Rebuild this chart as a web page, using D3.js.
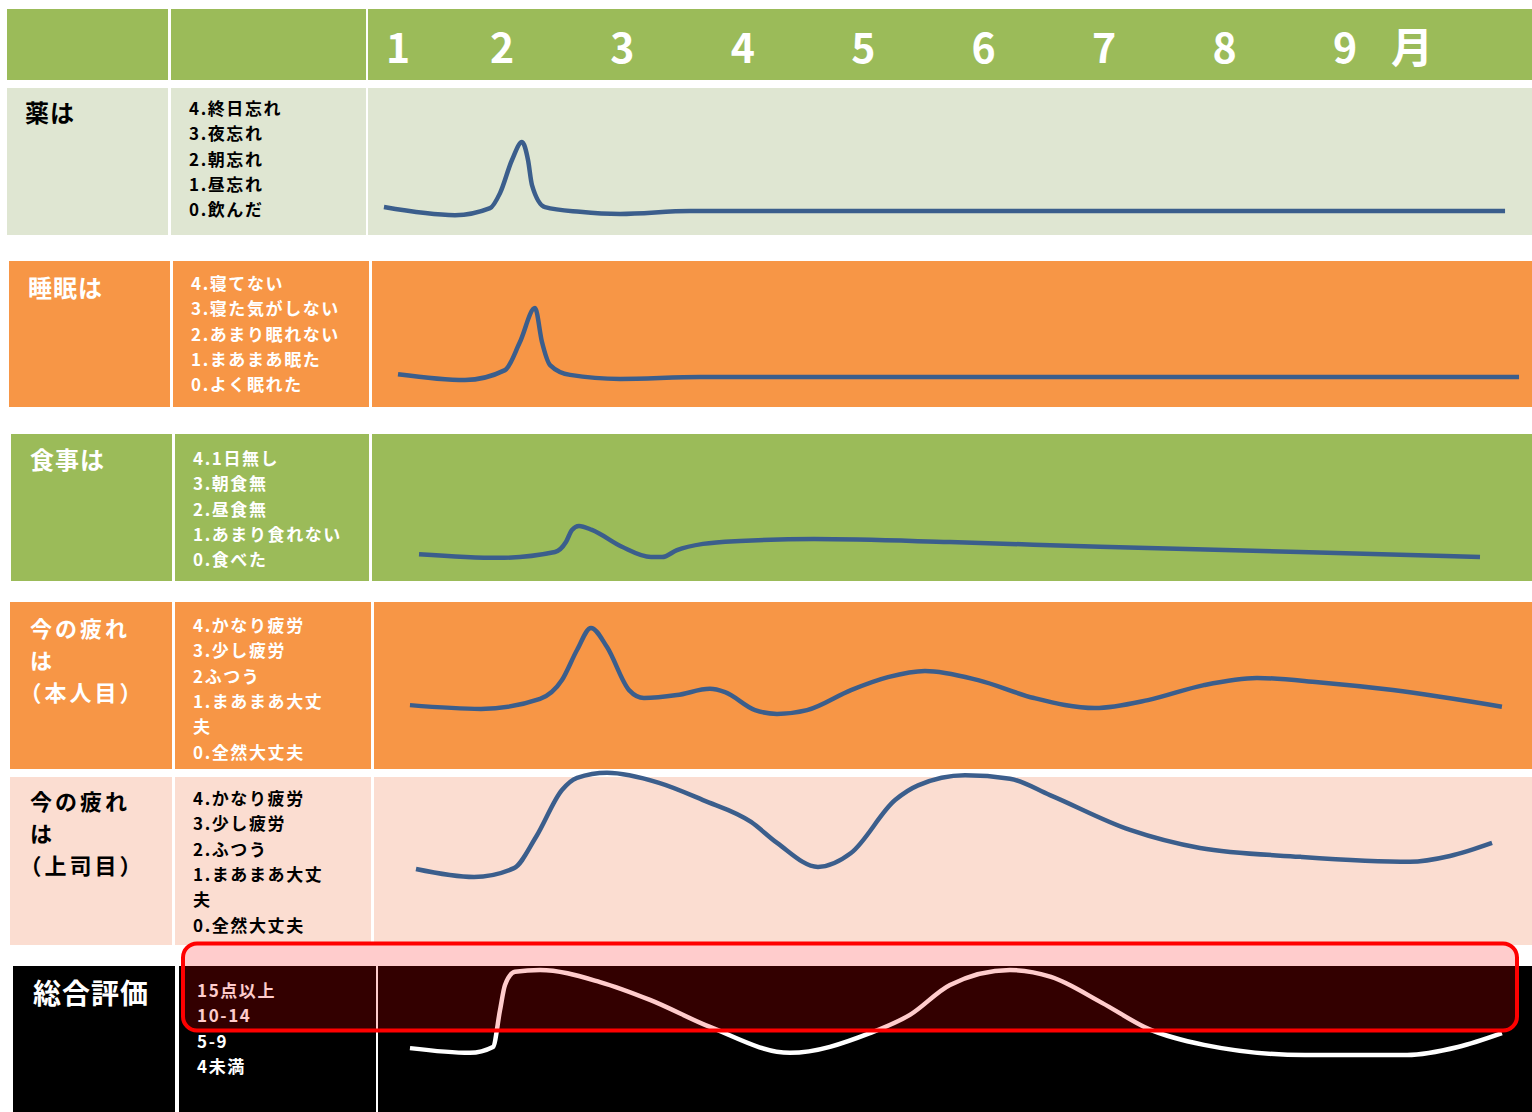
<!DOCTYPE html>
<html>
<head>
<meta charset="utf-8">
<script src="https://cdn.jsdelivr.net/npm/d3@7"></script>
<style>
  body { margin: 0; background: #ffffff; }
  svg { display: block; }
  text { font-family: "Noto Sans CJK JP", "Noto Sans", sans-serif; font-weight: 700; }
</style>
</head>
<body>
<svg id="chart" width="1532" height="1112"></svg>
<script>
// ---- data ----
const monthValues = [1, 2, 3, 4, 5, 6, 7, 8, 9];
const monthLabels = ["1", "2", "3", "4", "5", "6", "7", "8", "9"];
const monthUnit = "月";

const rowTitles = [
  ["薬は"],
  ["睡眠は"],
  ["食事は"],
  ["今の疲れ", "は", "（本人目）"],
  ["今の疲れ", "は", "（上司目）"],
  ["総合評価"]
];

const levelLabels = [
  ["4.終日忘れ", "3.夜忘れ", "2.朝忘れ", "1.昼忘れ", "0.飲んだ"],
  ["4.寝てない", "3.寝た気がしない", "2.あまり眠れない", "1.まあまあ眠た", "0.よく眠れた"],
  ["4.1日無し", "3.朝食無", "2.昼食無", "1.あまり食れない", "0.食べた"],
  ["4.かなり疲労", "3.少し疲労", "2ふつう", "1.まあまあ大丈", "夫", "0.全然大丈夫"],
  ["4.かなり疲労", "3.少し疲労", "2.ふつう", "1.まあまあ大丈", "夫", "0.全然大丈夫"],
  ["15点以上", "10-14", "5-9", "4未満"]
];

// [month, level] — level 0 at the bottom of the row, 4 at its top
const medicine = [
  [0.865, 0.76], [1.548, 0.54], [1.885, 0.73], [1.981, 1.14], [2.083, 2.04],
  [2.166, 2.53], [2.216, 2.04], [2.249, 1.36], [2.357, 0.76], [2.648, 0.63],
  [2.980, 0.57], [3.561, 0.65], [6.966, 0.65], [10.329, 0.65]
];
const sleep = [
  [1.0, 0.90], [1.644, 0.74], [2.025, 1.01], [2.149, 1.78], [2.274, 2.71],
  [2.332, 1.78], [2.399, 1.15], [2.565, 0.88], [2.980, 0.77], [3.644, 0.82],
  [7.0, 0.82], [10.445, 0.82]
];
const meals = [
  [1.202, 0.73], [1.971, 0.63], [2.440, 0.79], [2.531, 1.06], [2.581, 1.39],
  [2.639, 1.50], [2.747, 1.39], [2.996, 0.93], [3.237, 0.65], [3.329, 0.65],
  [3.453, 0.84], [3.669, 1.01], [3.976, 1.09], [4.591, 1.14], [5.720, 1.06],
  [6.966, 0.93], [8.626, 0.79], [10.121, 0.65]
];
const fatigueSelf = [
  [1.115, 1.53], [1.798, 1.44], [2.316, 1.68], [2.498, 2.13], [2.623, 2.85],
  [2.739, 3.38], [2.872, 2.92], [3.055, 1.89], [3.179, 1.70], [3.453, 1.77],
  [3.727, 1.92], [3.852, 1.84], [4.101, 1.41], [4.284, 1.32], [4.533, 1.41],
  [4.898, 1.89], [5.205, 2.20], [5.512, 2.35], [5.953, 2.13], [6.418, 1.70],
  [6.924, 1.46], [7.364, 1.65], [7.829, 2.01], [8.269, 2.18], [8.776, 2.08],
  [9.398, 1.89], [10.303, 1.49]
];
const fatigueBoss = [
  [1.173, 1.81], [1.731, 1.62], [2.100, 1.83], [2.282, 2.57], [2.498, 3.69],
  [2.623, 3.98], [2.872, 4.10], [3.304, 3.86], [3.669, 3.45], [4.068, 2.93],
  [4.284, 2.43], [4.624, 1.86], [4.898, 2.19], [5.264, 3.45], [5.455, 3.80],
  [5.845, 4.04], [6.218, 3.96], [6.550, 3.57], [7.215, 2.74], [7.796, 2.31],
  [8.626, 2.10], [9.540, 1.98], [9.872, 2.12], [10.221, 2.43]
];
const overall = [
  [1.115, 1.75], [1.692, 1.62], [1.913, 1.78], [1.981, 2.79], [2.025, 3.48],
  [2.108, 3.84], [2.316, 3.89], [2.814, 3.56], [3.229, 3.07], [3.727, 2.33],
  [4.391, 1.62], [5.055, 2.16], [5.387, 2.66], [5.720, 3.48], [6.218, 3.89],
  [6.559, 3.70], [6.982, 2.99], [7.372, 2.27], [7.829, 1.84], [8.668, 1.56],
  [9.515, 1.56], [9.938, 1.78], [10.303, 2.16]
];
const seriesList = [medicine, sleep, meals, fatigueSelf, fatigueBoss, overall];

// ---- layout & style ----
const header = { top: 9, bottom: 80, cols: [[7, 168], [171, 366], [368, 1532]], fill: "#9bbb59" };
const rows = [
  { top: 88,  bottom: 235,  cols: [[7, 168], [171, 366], [368, 1532]], fill: "#dfe6d2", text: "#000000", line: "#3b5e8c", titleX: 25, titleY: 111, titleSize: 24, levelX: 189, levelY: 107.5 },
  { top: 261, bottom: 407,  cols: [[9, 170], [173, 369], [372, 1532]], fill: "#f79646", text: "#ffffff", line: "#3b5e8c", titleX: 28, titleY: 286, titleSize: 24, levelX: 191, levelY: 282.5 },
  { top: 434, bottom: 581,  cols: [[11, 172], [175, 369], [372, 1532]], fill: "#9bbb59", text: "#ffffff", line: "#3b5e8c", titleX: 30, titleY: 458, titleSize: 24, levelX: 193, levelY: 457.5 },
  { top: 602, bottom: 769,  cols: [[10, 172], [175, 371], [374, 1532]], fill: "#f79646", text: "#ffffff", line: "#3b5e8c", titleX: 30, titleY: 627, titleSize: 22, levelX: 193, levelY: 624.5 },
  { top: 777, bottom: 945,  cols: [[10, 172], [175, 371], [374, 1532]], fill: "#fbddd1", text: "#000000", line: "#3b5e8c", titleX: 30, titleY: 800, titleSize: 22, levelX: 193, levelY: 797.5 },
  { top: 966, bottom: 1112, cols: [[13, 175], [179, 376], [378, 1532]], fill: "#000000", text: "#ffffff", line: "#ffffff", titleX: 33, titleY: 992, titleSize: 28, levelX: 197, levelY: 989.5 }
];
const levelStep = 25.3;
const levelSize = 17;
const titleStep = 32;

const svg = d3.select("#chart");

// month axis: the first month column is narrower than the rest
const x = d3.scaleLinear().domain([1, 2, 9]).range([398, 502, 1345]);

// header band
svg.append("g").selectAll("rect").data(header.cols).join("rect")
  .attr("x", d => d[0]).attr("y", header.top)
  .attr("width", d => d[1] - d[0]).attr("height", header.bottom - header.top)
  .attr("fill", header.fill);

const headerText = svg.append("g").attr("fill", "#ffffff");
headerText.selectAll("text.month").data(monthValues).join("text")
  .attr("class", "month")
  .attr("x", d => x(d)).attr("y", 45)
  .attr("text-anchor", "middle").attr("dominant-baseline", "central")
  .attr("font-size", 41)
  .text((d, i) => monthLabels[i]);
headerText.append("text")
  .attr("x", x(9) + 67).attr("y", 44)
  .attr("text-anchor", "middle").attr("dominant-baseline", "central")
  .attr("font-size", 42)
  .text(monthUnit);

// multi-line label block, one line per entry
function textBlock(g, lines, x0, y0, step, size, spacing, color) {
  g.append("g").selectAll("text").data(lines).join("text")
    .attr("x", x0)
    .attr("dx", d => d.startsWith("（") ? "-0.48em" : 0)
    .attr("y", (d, k) => y0 + k * step)
    .attr("dominant-baseline", "central")
    .attr("font-size", size)
    .attr("letter-spacing", spacing)
    .attr("fill", color)
    .text(d => d);
}

// body rows
const line = d3.line().curve(d3.curveMonotoneX);

rows.forEach((r, i) => {
  const g = svg.append("g");
  g.selectAll("rect").data(r.cols).join("rect")
    .attr("x", d => d[0]).attr("y", r.top)
    .attr("width", d => d[1] - d[0]).attr("height", r.bottom - r.top)
    .attr("fill", r.fill);

  textBlock(g, rowTitles[i], r.titleX, r.titleY, titleStep, r.titleSize, r.titleSize < 24 ? 3 : 1, r.text);
  textBlock(g, levelLabels[i], r.levelX, r.levelY, levelStep, levelSize, 1.6, r.text);

  // trend curve
  const y = d3.scaleLinear().domain([0, 4]).range([r.bottom, r.top]);
  line.x(d => x(d[0])).y(d => y(d[1]));
  g.append("path")
    .datum(seriesList[i])
    .attr("d", line)
    .attr("fill", "none")
    .attr("stroke", r.line)
    .attr("stroke-width", 4.5)
    .attr("stroke-linecap", "butt");
});

// highlight of the high overall-score band
svg.append("rect")
  .attr("x", 183).attr("y", 943.5)
  .attr("width", 1334).attr("height", 87)
  .attr("rx", 14).attr("ry", 14)
  .attr("fill", "rgba(255,0,0,0.2)")
  .attr("stroke", "#ff0000")
  .attr("stroke-width", 4);
</script>
</body>
</html>
